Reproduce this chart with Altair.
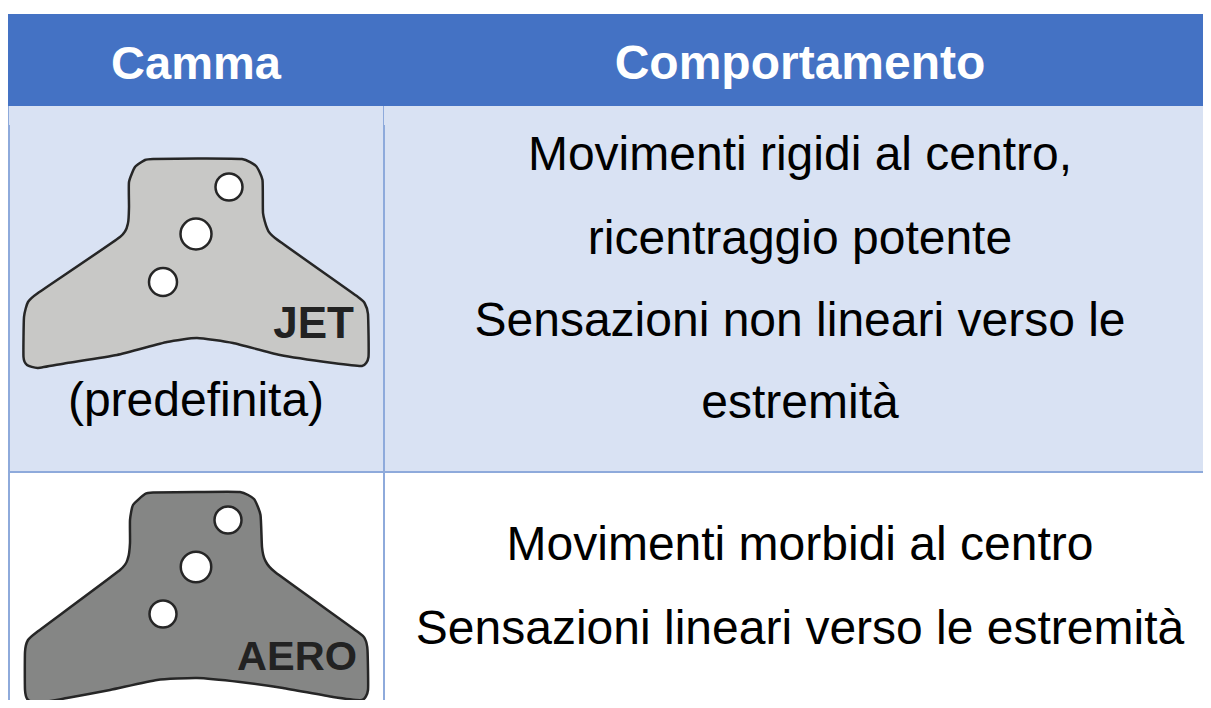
import altair as alt
import pandas as pd

# --- table structure (picture coordinates) ---
rect_x0 = [8, 8, 8]
rect_x1 = [1211, 1211, 1211]
rect_y0 = [14, 106, 473]
rect_y1 = [106, 472, 708]
rect_fill = ["#4472c4", "#d9e2f3", "#ffffff"]

line_x0 = [9, 384, 9, 384, 8, 8.5, 383.5]
line_x1 = [9, 384, 9, 384, 1211, 8.5, 383.5]
line_y0 = [125, 125, 472, 472, 472, 106, 106]
line_y1 = [472, 472, 708, 708, 472, 125, 125]
line_w = [2, 2, 2, 2, 2, 1, 1]

# --- cam outlines ---
jet_x = [153, 197, 242, 256, 262.5, 263, 267, 275, 358, 365, 368, 368.5, 362, 333, 280, 233, 197, 167, 117, 67, 38, 27, 23.5, 24, 28, 38, 120, 128, 129, 129, 135, 145]
jet_y = [159, 158.5, 159, 166, 180, 213, 228, 238, 297, 304, 314, 357, 366, 363, 355, 343, 338, 342, 355, 363, 368, 365, 357, 317, 302, 293, 237, 223, 207, 182, 167, 160]
aero_x = [153, 197, 240, 254, 260.5, 262, 265, 275, 358, 365, 367.5, 368, 362, 333, 283, 240, 197, 157, 110, 67, 38, 28, 25, 25, 28, 37, 120, 128, 130, 130, 133, 145]
aero_y = [492.5, 492, 492, 499, 515, 547, 560, 572, 632, 639, 650, 690, 700, 697, 688, 682, 678, 680, 690, 698, 703, 700, 690, 652, 640, 632, 570, 558, 543, 520, 505, 494]
jet_fill = "#c8c8c6"
aero_fill = "#858685"

# --- holes ---
hole_x = [229, 196, 163, 228, 196, 163]
hole_y = [187, 234, 282, 520, 567, 614]
hole_size = [729, 961, 784, 729, 930, 729]

# --- texts ---
head_text = ["Camma", "Comportamento"]
head_x = [196, 800]
head_y = [79, 79]
head_size = [47, 48]

body_text = [
    "Movimenti rigidi al centro,",
    "ricentraggio potente",
    "Sensazioni non lineari verso le",
    "estremità",
    "(predefinita)",
    "Movimenti morbidi al centro",
    "Sensazioni lineari verso le estremità",
]
body_x = [800, 800, 800, 800, 196, 800, 800]
body_y = [170, 254, 336, 418, 416, 560, 644]
body_size = [48, 48, 48, 48, 48, 48, 48]

label_text = ["JET", "AERO"]
label_x = [354, 357]
label_y = [338, 670]
label_size = [44, 41.5]

X = alt.Scale(domain=[8, 1203], range=[0, 1195])
Y = alt.Scale(domain=[8, 700], range=[0, 692])


def xq(f="x"):
    return alt.X(f"{f}:Q", scale=X, axis=None)


def yq(f="y"):
    return alt.Y(f"{f}:Q", scale=Y, axis=None)


rects = alt.Chart(pd.DataFrame(dict(x=rect_x0, x2=rect_x1, y=rect_y0, y2=rect_y1, f=rect_fill))).mark_rect().encode(
    x=xq(), x2="x2:Q", y=yq(), y2="y2:Q", fill=alt.Fill("f:N", scale=None)
)

lines = alt.Chart(pd.DataFrame(dict(x=line_x0, x2=line_x1, y=line_y0, y2=line_y1, w=line_w))).mark_rule(
    color="#8eaadb"
).encode(x=xq(), x2="x2:Q", y=yq(), y2="y2:Q", strokeWidth=alt.StrokeWidth("w:Q", scale=None))


def cam(xs, ys, fill):
    df = pd.DataFrame(dict(x=xs, y=ys, i=range(len(xs))))
    return alt.Chart(df).mark_line(
        interpolate="cardinal-closed", tension=0.5, fill=fill, stroke="#262626", strokeWidth=2.5
    ).encode(x=xq(), y=yq(), order="i:Q")


holes = alt.Chart(pd.DataFrame(dict(x=hole_x, y=hole_y, s=hole_size))).mark_point(
    shape="circle", filled=True, fill="#ffffff", stroke="#262626", strokeWidth=2.5, opacity=1
).encode(x=xq(), y=yq(), size=alt.Size("s:Q", scale=None))


def text_layer(txt, xs, ys, sizes, **kw):
    df = pd.DataFrame(dict(t=txt, x=xs, y=ys, s=sizes))
    return alt.Chart(df).mark_text(font="Liberation Sans", baseline="alphabetic", **kw).encode(
        x=xq(), y=yq(), text="t:N", size=alt.Size("s:Q", scale=None)
    )


chart = alt.layer(
    rects,
    lines,
    cam(jet_x, jet_y, jet_fill),
    cam(aero_x, aero_y, aero_fill),
    holes,
    text_layer(head_text, head_x, head_y, head_size, fontWeight="bold", color="#ffffff", align="center"),
    text_layer(body_text, body_x, body_y, body_size, color="#000000", align="center"),
    text_layer(label_text, label_x, label_y, label_size, fontWeight="bold", color="#222222", align="right"),
).properties(width=1195, height=692, padding=0, autosize=alt.AutoSizeParams(type="none")).configure_view(stroke=None)

chart.save("out.html", embed_options={"renderer": "svg", "actions": False})
